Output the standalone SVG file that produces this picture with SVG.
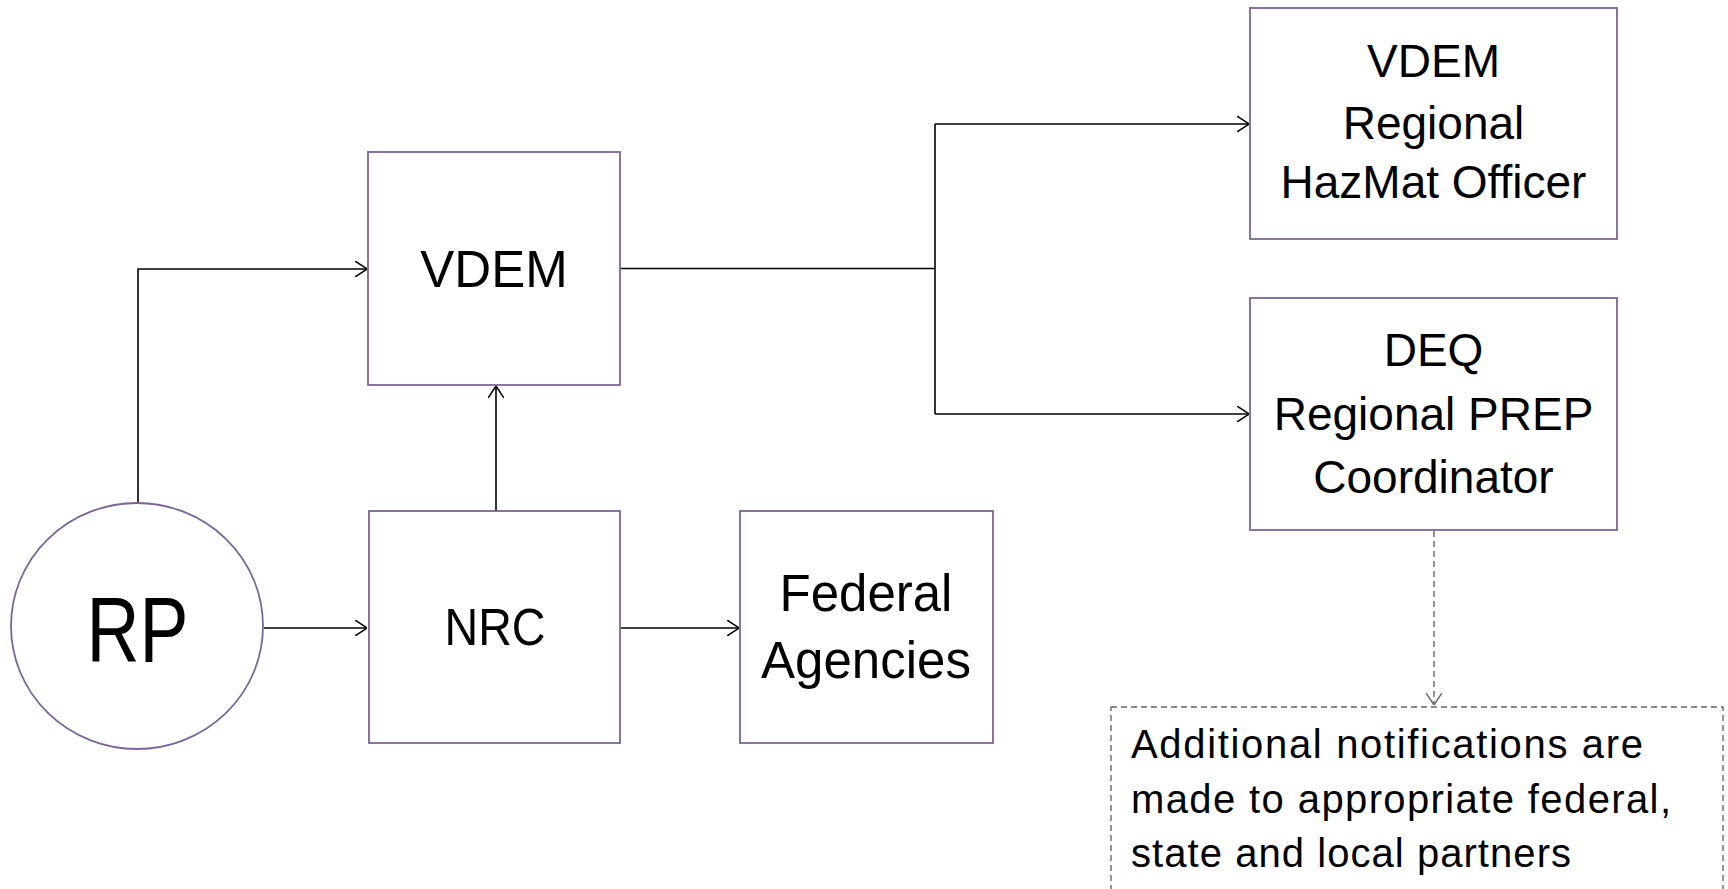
<svg xmlns="http://www.w3.org/2000/svg" width="1728" height="889" viewBox="0 0 1728 889">
<style>
.box{fill:#fff;stroke:#7a6696;stroke-width:1.8}
.t{font-family:"Liberation Sans",Arial,sans-serif;fill:#000;text-anchor:middle}
.big{font-size:51px}
.mid{font-size:46px}
.note{font-family:"Liberation Sans",Arial,sans-serif;font-size:40px;fill:#000}
.conn{fill:none;stroke:#000;stroke-width:1.6}
.dash{fill:none;stroke:#666;stroke-width:1.4;stroke-dasharray:6 4}
</style>
<defs>
<marker id="arr" viewBox="0 0 12 16" refX="12" refY="8" markerWidth="12" markerHeight="16" markerUnits="userSpaceOnUse" orient="auto">
<path d="M0,0 L12,8 L0,16" fill="none" stroke="#000" stroke-width="1.5"/>
</marker>
<marker id="arrg" viewBox="0 0 12 16" refX="12" refY="8" markerWidth="12" markerHeight="16" markerUnits="userSpaceOnUse" orient="auto">
<path d="M0,0 L12,8 L0,16" fill="none" stroke="#666" stroke-width="1.4"/>
</marker>
</defs>
<rect width="1728" height="889" fill="#fff"/>
<g id="connectors">
<path class="conn" d="M138,503 V269 H367" marker-end="url(#arr)"/>
<path class="conn" d="M264,628 H367" marker-end="url(#arr)"/>
<path class="conn" d="M496,511 V386" marker-end="url(#arr)"/>
<path class="conn" d="M621,628 H739" marker-end="url(#arr)"/>
<path class="conn" d="M621,268.5 H935"/>
<path class="conn" d="M935,124 V414"/>
<path class="conn" d="M935,124 H1249" marker-end="url(#arr)"/>
<path class="conn" d="M935,414 H1249" marker-end="url(#arr)"/>
<path class="dash" d="M1434,531 V705" marker-end="url(#arrg)"/>
</g>
<g id="rp">
<ellipse class="box" cx="137" cy="626" rx="126" ry="123"/>
<text class="t" x="137.5" y="662" font-size="93" textLength="102" lengthAdjust="spacingAndGlyphs">RP</text>
</g>
<g id="vdem">
<rect class="box" x="368" y="152" width="252" height="233"/>
<text class="t big" x="494" y="287">VDEM</text>
</g>
<g id="nrc">
<rect class="box" x="369" y="511" width="251" height="232"/>
<text class="t big" x="495" y="645" textLength="101" lengthAdjust="spacingAndGlyphs">NRC</text>
</g>
<g id="federal">
<rect class="box" x="740" y="511" width="253" height="232"/>
<text class="t big" x="866" y="611">Federal</text>
<text class="t big" x="866" y="678">Agencies</text>
</g>
<g id="vdem-regional">
<rect class="box" x="1250" y="8" width="367" height="231"/>
<text class="t mid" x="1433.5" y="77">VDEM</text>
<text class="t mid" x="1433.5" y="139">Regional</text>
<text class="t mid" x="1433.5" y="198">HazMat Officer</text>
</g>
<g id="deq">
<rect class="box" x="1250" y="298" width="367" height="232"/>
<text class="t mid" x="1433.5" y="366">DEQ</text>
<text class="t mid" x="1433.5" y="430">Regional PREP</text>
<text class="t mid" x="1433.5" y="493">Coordinator</text>
</g>
<g id="note">
<rect class="dash" x="1111" y="707" width="612" height="200" stroke-dasharray="4 3" stroke="#555"/>
<text class="note" x="1131" y="758" textLength="512" lengthAdjust="spacing">Additional notifications are</text>
<text class="note" x="1131" y="813" textLength="540" lengthAdjust="spacing">made to appropriate federal,</text>
<text class="note" x="1131" y="867" textLength="440" lengthAdjust="spacing">state and local partners</text>
</g>
</svg>
